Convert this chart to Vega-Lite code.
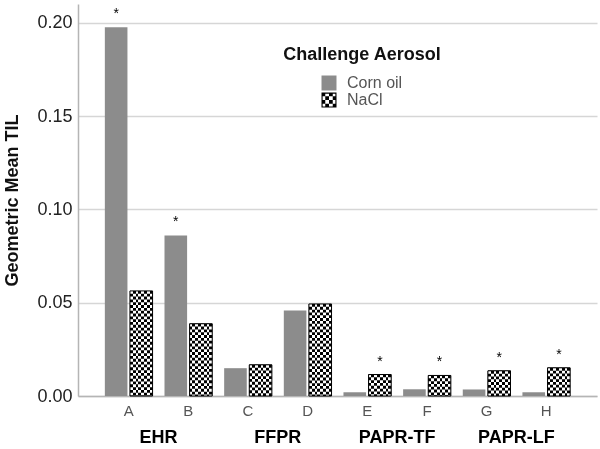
{
  "$schema": "https://vega.github.io/schema/vega-lite/v6.json",
  "width": 519,
  "height": 392,
  "autosize": {"type": "none"},
  "padding": {"left": 78, "top": 4, "right": 3, "bottom": 53},
  "config": {
    "font": "Liberation Sans",
    "view": {"stroke": null},
    "legend": {
      "orient": "none", "legendX": 205, "legendY": 42,
      "titleFontSize": 18, "titleFontWeight": "bold", "titleColor": "#111", "titleAnchor": "middle",
      "titlePadding": 11, "labelFontSize": 16, "labelColor": "#555", "symbolSize": 225,
      "symbolStrokeWidth": 0, "symbolOpacity": 1, "rowPadding": 1, "padding": 0, "labelOffset": 10
    }
  },
  "data": {
    "values": [
      {"letter": "A", "aerosol": "Corn oil", "til": 0.1975, "sig": "*"},
      {"letter": "A", "aerosol": "NaCl", "til": 0.0563, "sig": ""},
      {"letter": "B", "aerosol": "Corn oil", "til": 0.086, "sig": "*"},
      {"letter": "B", "aerosol": "NaCl", "til": 0.0387, "sig": ""},
      {"letter": "C", "aerosol": "Corn oil", "til": 0.0149, "sig": ""},
      {"letter": "C", "aerosol": "NaCl", "til": 0.0167, "sig": ""},
      {"letter": "D", "aerosol": "Corn oil", "til": 0.0458, "sig": ""},
      {"letter": "D", "aerosol": "NaCl", "til": 0.0493, "sig": ""},
      {"letter": "E", "aerosol": "Corn oil", "til": 0.002, "sig": ""},
      {"letter": "E", "aerosol": "NaCl", "til": 0.0115, "sig": "*"},
      {"letter": "F", "aerosol": "Corn oil", "til": 0.0036, "sig": ""},
      {"letter": "F", "aerosol": "NaCl", "til": 0.011, "sig": "*"},
      {"letter": "G", "aerosol": "Corn oil", "til": 0.0035, "sig": ""},
      {"letter": "G", "aerosol": "NaCl", "til": 0.0135, "sig": "*"},
      {"letter": "H", "aerosol": "Corn oil", "til": 0.002, "sig": ""},
      {"letter": "H", "aerosol": "NaCl", "til": 0.0151, "sig": "*"}
    ]
  },
  "encoding": {
    "x": {"field": "letter", "type": "nominal", "sort": null, "scale": {"paddingInner": 0.2, "paddingOuter": 0.45}},
    "xOffset": {"field": "aerosol", "type": "nominal", "sort": ["Corn oil", "NaCl"], "scale": {"paddingInner": 0.1, "paddingOuter": 0}},
    "y": {
      "field": "til", "type": "quantitative",
      "scale": {"domain": [0, 0.21], "nice": false},
      "axis": {
        "title": "Geometric Mean TIL", "titleFontSize": 18, "titleFontWeight": "bold", "titleColor": "#111",
        "titlePadding": 15, "labelFontSize": 18, "labelColor": "#222", "format": ".2f",
        "values": [0, 0.05, 0.1, 0.15, 0.2], "ticks": false, "labelPadding": 6,
        "grid": true, "gridColor": "#d6d6d6", "gridWidth": 1.5, "domainColor": "#b5b5b5", "domainWidth": 1.5
      }
    }
  },
  "resolve": {"axis": {"x": "independent"}},
  "layer": [
    {
      "mark": {"type": "bar"},
      "encoding": {
        "x": {"field": "letter", "type": "nominal", "sort": null,
          "axis": {"orient": "bottom", "title": null, "labelAngle": 0, "labelFontSize": 15, "labelColor": "#555", "ticks": false, "labelPadding": 7, "domainColor": "#b5b5b5", "domainWidth": 1.5, "grid": false}},
        "fill": {
          "field": "aerosol", "type": "nominal", "title": "Challenge Aerosol",
          "scale": {"domain": ["Corn oil", "NaCl"], "range": ["#8c8c8c", "#000000"]}
        }
      }
    },
    {
      "mark": {"type": "point", "filled": true, "opacity": 0},
      "encoding": {
        "x": {"field": "letter", "type": "nominal", "sort": null, "axis": null},
        "fill": {
          "field": "aerosol", "type": "nominal", "title": "Challenge Aerosol",
          "scale": {"domain": ["Corn oil", "NaCl"], "range": ["#8c8c8c", "#000000"]}
        },
        "shape": {
          "field": "aerosol", "type": "nominal", "title": "Challenge Aerosol",
          "scale": {"domain": ["Corn oil", "NaCl"], "range": ["square", "M-1,-1h2v2h-2ZM-0.85,-0.85v1.7h1.7v-1.7ZM-1,-1h0.5v0.5h-0.5ZM0,-1h0.5v0.5h-0.5ZM-0.5,-0.5h0.5v0.5h-0.5ZM0.5,-0.5h0.5v0.5h-0.5ZM-1,0h0.5v0.5h-0.5ZM0,0h0.5v0.5h-0.5ZM-0.5,0.5h0.5v0.5h-0.5ZM0.5,0.5h0.5v0.5h-0.5Z"]}
        }
      }
    },
    {
      "transform": [{"filter": "datum.aerosol === 'NaCl'"}],
      "mark": {
        "type": "bar",
        "fill": {
          "gradient": "linear", "x1": 0, "y1": 0, "x2": 1, "y2": 0,
          "stops": [
            {"offset": 0, "color": "#000000"}, {"offset": 0.125, "color": "#000000"},
            {"offset": 0.125, "color": "#ffffff"}, {"offset": 0.25, "color": "#ffffff"},
            {"offset": 0.25, "color": "#000000"}, {"offset": 0.375, "color": "#000000"},
            {"offset": 0.375, "color": "#ffffff"}, {"offset": 0.5, "color": "#ffffff"},
            {"offset": 0.5, "color": "#000000"}, {"offset": 0.625, "color": "#000000"},
            {"offset": 0.625, "color": "#ffffff"}, {"offset": 0.75, "color": "#ffffff"},
            {"offset": 0.75, "color": "#000000"}, {"offset": 0.875, "color": "#000000"},
            {"offset": 0.875, "color": "#ffffff"}, {"offset": 1, "color": "#ffffff"}
          ]
        }
      },
      "encoding": {
        "x": {"field": "letter", "type": "nominal", "sort": null,
          "axis": {"orient": "bottom", "title": null, "domain": false, "ticks": false, "grid": false,
            "labelExpr": "datum.value == 'A' ? 'EHR' : datum.value == 'C' ? 'FFPR' : datum.value == 'E' ? 'PAPR-TF' : datum.value == 'G' ? 'PAPR-LF' : ''",
            "labelOffset": 29.8, "labelPadding": 32, "labelFontSize": 18, "labelFontWeight": "bold", "labelColor": "#000",
            "labelOverlap": false, "labelBound": false, "labelAngle": 0}}
      }
    },
    {
      "transform": [{"filter": "datum.aerosol === 'NaCl'"}],
      "mark": {"type": "rule", "stroke": "#ffffff", "strokeWidth": 22.6, "strokeDash": [2.83, 2.83], "strokeCap": "butt", "blend": "difference"},
      "encoding": {
        "x": {"field": "letter", "type": "nominal", "sort": null, "axis": null},
        "y2": {"datum": 0}
      }
    },
    {
      "transform": [{"filter": "datum.aerosol === 'NaCl'"}],
      "mark": {"type": "bar", "fillOpacity": 0, "stroke": "#000000", "strokeWidth": 1},
      "encoding": {
        "x": {"field": "letter", "type": "nominal", "sort": null, "axis": null}
      }
    },
    {
      "transform": [{"filter": "datum.sig === '*'"}],
      "mark": {"type": "text", "fontSize": 14, "dy": -13, "baseline": "middle", "color": "#000"},
      "encoding": {
        "x": {"field": "letter", "type": "nominal", "sort": null, "axis": null},
        "text": {"field": "sig"}
      }
    }
  ]
}
